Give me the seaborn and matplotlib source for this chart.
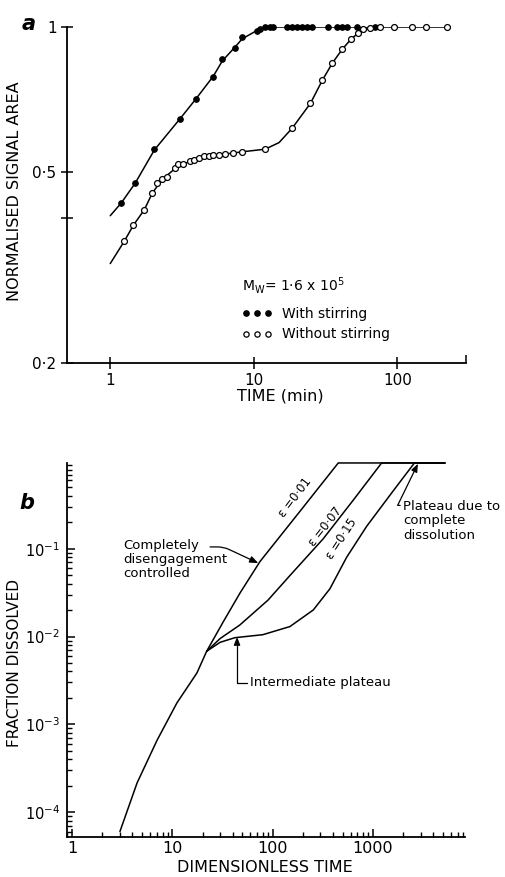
import numpy as np
import pandas as pd
import matplotlib
matplotlib.use("Agg")
import matplotlib.pyplot as plt
from matplotlib.lines import Line2D
from matplotlib.ticker import FixedLocator, LogLocator, NullFormatter, NullLocator
import seaborn as sns

# ---- panel a: normalised signal area vs time (min) ----
t_with = [1.19, 1.49, 2.03, 3.07, 3.97, 5.22, 6.03, 7.43, 8.3, 10.6, 11.1, 12.0, 13.0, 13.7,
          17.1, 18.5, 20.1, 21.8, 23.6, 25.6, 33.1, 38.2, 41.4, 44.8, 52.6, 70.3]
y_with = [0.43, 0.473, 0.557, 0.643, 0.708, 0.787, 0.858, 0.904, 0.953, 0.98, 0.99, 1.0, 1.0, 1.0,
          1.0, 1.0, 1.0, 1.0, 1.0, 1.0, 1.0, 1.0, 1.0, 1.0, 1.0, 1.0]
t_without = [1.25, 1.45, 1.73, 1.96, 2.13, 2.3, 2.49, 2.84, 2.98, 3.23, 3.61, 3.85, 4.17, 4.52,
             4.9, 5.22, 5.74, 6.33, 7.2, 8.3, 12.0, 18.5, 24.8, 30.0, 35.2, 41.4, 47.6, 53.4,
             57.9, 64.6, 76, 93.9, 127, 157, 222]
y_without = [0.358, 0.387, 0.417, 0.451, 0.473, 0.482, 0.487, 0.508, 0.518, 0.518, 0.526, 0.53,
             0.535, 0.539, 0.539, 0.541, 0.541, 0.544, 0.547, 0.55, 0.557, 0.616, 0.694, 0.775,
             0.841, 0.9, 0.944, 0.972, 0.99, 0.995, 1.0, 1.0, 1.0, 1.0, 1.0]

# smooth curves drawn through the points
curve_t_with = [1.0, 1.19, 1.49, 2.03, 3.07, 3.97, 5.22, 6.03, 7.43, 8.3, 10.6, 13.0, 70.3]
curve_y_with = [0.405, 0.43, 0.473, 0.555, 0.645, 0.71, 0.79, 0.85, 0.91, 0.945, 0.985, 1.0, 1.0]
curve_t_without = [1.0, 1.25, 1.45, 1.73, 1.96, 2.3, 2.84, 3.6, 5.2, 8.3, 12.0, 15.0, 18.5, 24.8,
                   30.0, 35.2, 41.4, 47.6, 53.4, 60.0, 76.0, 222.0]
curve_y_without = [0.322, 0.358, 0.387, 0.417, 0.451, 0.482, 0.508, 0.526, 0.54, 0.55, 0.557,
                   0.575, 0.616, 0.694, 0.775, 0.841, 0.9, 0.944, 0.972, 0.99, 1.0, 1.0]

a_yticks = [0.2, 0.4, 0.5, 1.0]
a_yticklabels = ["0·2", "", "0·5", "1"]
a_xticks = [1, 10, 100]
a_xticklabels = ["1", "10", "100"]

# ---- panel b: fraction dissolved vs dimensionless time ----
common_t = [3.0, 4.45, 7.05, 11.1, 17.6, 22.0]
common_y = [6.0e-5, 2.15e-4, 6.6e-4, 1.75e-3, 3.85e-3, 6.8e-3]
eps001_t = [22.0, 32.3, 47.3, 74.9, 187, 452, 5250]
eps001_y = [6.8e-3, 0.0148, 0.0313, 0.0716, 0.266, 0.95, 0.95]
eps007_t = [22.0, 30.0, 47.0, 90.0, 150, 320, 640, 1224, 5250]
eps007_y = [6.8e-3, 0.0095, 0.0135, 0.026, 0.05, 0.13, 0.36, 0.95, 0.95]
eps015_t = [22.0, 30.0, 42.0, 80.0, 149, 255, 373, 548, 867, 1650, 2600, 5250]
eps015_y = [6.8e-3, 8.6e-3, 9.7e-3, 0.0105, 0.013, 0.0201, 0.035, 0.08, 0.18, 0.48, 0.95, 0.95]

b_xticks = [1, 10, 100, 1000]
b_xticklabels = ["1", "10", "100", "1000"]
b_yticks = [1e-4, 1e-3, 1e-2, 1e-1]
b_yticklabels = ["$10^{-4}$", "$10^{-3}$", "$10^{-2}$", "$10^{-1}$"]

sns.set_style("ticks")
plt.rcParams['font.family'] = ['DejaVu Sans']
plt.rcParams['mathtext.default'] = 'regular'
for key in ['text.color', 'axes.labelcolor', 'xtick.color', 'ytick.color', 'axes.edgecolor']:
    plt.rcParams[key] = 'black'

fig = plt.figure(figsize=(5.05, 8.77), dpi=100)
ax1 = fig.add_axes([0.1327, 0.5861, 0.790, 0.3831])
ax2 = fig.add_axes([0.1327, 0.0456, 0.788, 0.4265])

lw = 1.1
arrow_style = '-|>,head_length=0.5,head_width=0.2'

# panel a
sns.lineplot(x=curve_t_with, y=curve_y_with, ax=ax1, color='black', lw=lw, sort=False, estimator=None)
sns.lineplot(x=curve_t_without, y=curve_y_without, ax=ax1, color='black', lw=lw, sort=False, estimator=None)
sns.scatterplot(x=t_with, y=y_with, ax=ax1, color='black', edgecolor='black', s=16, zorder=3,
                linewidth=0.8, clip_on=False)
sns.scatterplot(x=t_without, y=y_without, ax=ax1, facecolor='white', edgecolor='black', s=18,
                zorder=3, linewidth=0.9, clip_on=False)
ax1.set_xscale('log')
ax1.set_yscale('log')
ax1.set_xlim(0.5, 300)
ax1.set_ylim(0.2, 1.0)
ax1.yaxis.set_major_locator(FixedLocator(a_yticks))
ax1.set_yticklabels(a_yticklabels)
ax1.yaxis.set_minor_locator(NullLocator())
ax1.xaxis.set_major_locator(FixedLocator(a_xticks))
ax1.set_xticklabels(a_xticklabels)
ax1.xaxis.set_minor_locator(FixedLocator([300]))
ax1.xaxis.set_minor_formatter(NullFormatter())
ax1.tick_params(axis='both', which='major', direction='inout', length=9, width=1.1,
                labelsize=11, pad=3)
ax1.tick_params(axis='x', which='minor', direction='in', length=6, width=1.1)
sns.despine(ax=ax1)
for s in ['left', 'bottom']:
    ax1.spines[s].set_linewidth(1.3)
ax1.set_ylabel("NORMALISED SIGNAL AREA", fontsize=11.5)
ax1.yaxis.set_label_coords(-0.112, 0.512)
ax1.set_xlabel("TIME (min)", fontsize=11.5)
ax1.xaxis.set_label_coords(0.534, -0.077)

ax1.text(0.4386, 0.232, "$M_W$= 1·6 x 10$^5$", transform=ax1.transAxes, fontsize=10,
         ha='left', va='center')
handles = [Line2D([], [], ls='none', marker='o', mfc='black', mec='black', ms=3.8),
           Line2D([], [], ls='none', marker='o', mfc='white', mec='black', ms=3.8, mew=0.9)]
ax1.legend(handles, ["With stirring", "Without stirring"], numpoints=3, fontsize=10,
           frameon=False, loc='upper left', bbox_to_anchor=(0.4386, 0.166),
           handlelength=2.2, handletextpad=0.7, labelspacing=0.45,
           borderaxespad=0, borderpad=0)
ax1.text(-0.095, 1.01, "a", transform=ax1.transAxes, fontsize=15, fontweight='bold',
         fontstyle='italic', ha='center', va='center')

# panel b
for tt, yy in [(common_t, common_y), (eps001_t, eps001_y), (eps007_t, eps007_y), (eps015_t, eps015_y)]:
    sns.lineplot(x=tt, y=yy, ax=ax2, color='black', lw=lw, sort=False, estimator=None, clip_on=False)
ax2.set_xscale('log')
ax2.set_yscale('log')
ax2.set_xlim(0.89, 8300)
ax2.set_ylim(5.2e-5, 0.95)
ax2.xaxis.set_major_locator(FixedLocator(b_xticks))
ax2.set_xticklabels(b_xticklabels)
ax2.xaxis.set_minor_locator(LogLocator(base=10, subs=np.arange(2, 10)))
ax2.xaxis.set_minor_formatter(NullFormatter())
ax2.yaxis.set_major_locator(FixedLocator(b_yticks))
ax2.set_yticklabels(b_yticklabels)
ax2.yaxis.set_minor_locator(LogLocator(base=10, subs=np.arange(2, 10)))
ax2.yaxis.set_minor_formatter(NullFormatter())
ax2.tick_params(axis='x', which='major', direction='in', length=6, width=1.1,
                labelsize=11.5, pad=3)
ax2.tick_params(axis='y', which='major', direction='in', length=6, width=1.1,
                labelsize=10.5, pad=5)
ax2.tick_params(axis='both', which='minor', direction='in', length=3.5, width=1.0)
sns.despine(ax=ax2)
for s in ['left', 'bottom']:
    ax2.spines[s].set_linewidth(1.3)
ax2.set_ylabel("FRACTION DISSOLVED", fontsize=11)
ax2.yaxis.set_label_coords(-0.112, 0.465)
ax2.set_xlabel("DIMENSIONLESS TIME", fontsize=11.5)
ax2.xaxis.set_label_coords(0.497, -0.062)
ax2.text(-0.1, 0.893, "b", transform=ax2.transAxes, fontsize=15, fontweight='bold',
         fontstyle='italic', ha='center', va='center')

ax2.text(167, 0.382, "ε =0·01", rotation=53, rotation_mode='anchor', ha='center', va='center', fontsize=8.5)
ax2.text(333, 0.178, "ε =0·07", rotation=52, rotation_mode='anchor', ha='center', va='center', fontsize=8.5)
ax2.text(492, 0.13, "ε =0·15", rotation=57, rotation_mode='anchor', ha='center', va='center', fontsize=8.5)

fs = 9.5
ax2.text(3.22, 0.128, "Completely\ndisengagement\ncontrolled", fontsize=fs, ha='left', va='top',
         linespacing=1.1)
ax2.annotate("", xy=(72, 0.0687), xytext=(23.8, 0.105),
             arrowprops=dict(arrowstyle=arrow_style, color='black', lw=0.9,
                             connectionstyle='angle,angleA=0,angleB=-25,rad=6',
                             shrinkA=0, shrinkB=0))

ax2.annotate("Intermediate plateau", xy=(44.2, 0.0099), xytext=(59.4, 2.97e-3), fontsize=fs,
             ha='left', va='center',
             arrowprops=dict(arrowstyle=arrow_style, color='black', lw=0.9,
                             connectionstyle='angle,angleA=180,angleB=90,rad=0', relpos=(0, 0.5),
                             patchA=None, shrinkA=2, shrinkB=0))

ax2.annotate("Plateau due to\ncomplete\ndissolution", xy=(2818, 0.93), xytext=(1995, 0.36),
             fontsize=fs, ha='left', va='top', linespacing=1.15,
             arrowprops=dict(arrowstyle=arrow_style, color='black', lw=0.9,
                             connectionstyle='angle,angleA=180,angleB=64,rad=0', relpos=(0, 0.87),
                             patchA=None, shrinkA=2, shrinkB=0))

fig.savefig("out.png", dpi=100)
